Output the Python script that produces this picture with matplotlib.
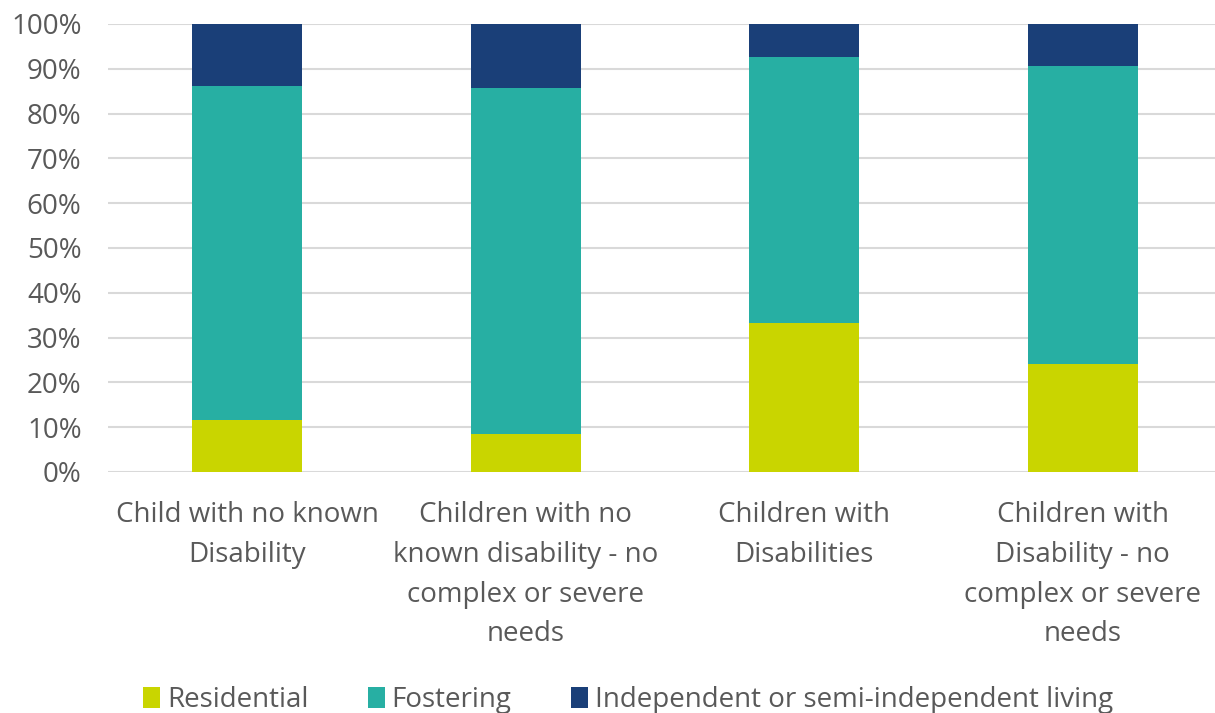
import matplotlib.pyplot as plt
import numpy as np

categories = ["Child with no known\nDisability",
              "Children with no\nknown disability - no\ncomplex or severe\nneeds",
              "Children with\nDisabilities",
              "Children with\nDisability - no\ncomplex or severe\nneeds"]
residential = [11.5, 8.5, 33.2, 24.1]
fostering = [74.6, 77.3, 59.4, 66.6]
independent = [13.9, 14.2, 7.4, 9.3]

series_names = ['Residential', 'Fostering', 'Independent or semi-independent living']
colors = ['#C9D500', '#27AFA3', '#1A3F78']

plt.rcParams['font.family'] = ['Open Sans', 'DejaVu Sans']

fig = plt.figure(figsize=(12.15, 7.13), dpi=100)
ax = fig.add_axes([108 / 1215, 241 / 713, 1 - 108 / 1215, 448 / 713])

x = np.arange(len(categories))
largura = 0.395
base = np.zeros(len(categories))
for valores, nome, cor in zip([residential, fostering, independent], series_names, colors):
    ax.bar(x, valores, largura, bottom=base, color=cor, label=nome, zorder=3)
    base = base + np.array(valores)

ax.set_xlim(-0.5, 3.475)
ax.set_ylim(0, 100)
ax.set_yticks(range(0, 101, 10))
ax.set_yticklabels([f"{v}%" for v in range(0, 101, 10)])
ax.grid(axis='y', color='#d9d9d9', linewidth=1.5, zorder=0)
for s in ax.spines.values():
    s.set_visible(False)
ax.tick_params(axis='y', length=0, pad=19, labelsize=20, labelcolor='#595959')
ax.tick_params(axis='x', length=0, pad=21, labelsize=20, labelcolor='#595959')
ax.set_xticks(x)
ax.set_xticklabels(categories, linespacing=1.56)

fig.legend(loc='center', bbox_to_anchor=(0.517, 0.018), ncol=3, frameon=False,
           fontsize=20, labelcolor='#595959', handlelength=0.6, handleheight=0.8,
           handletextpad=0.25, columnspacing=2.15)

fig.savefig('out.png', dpi=100)
